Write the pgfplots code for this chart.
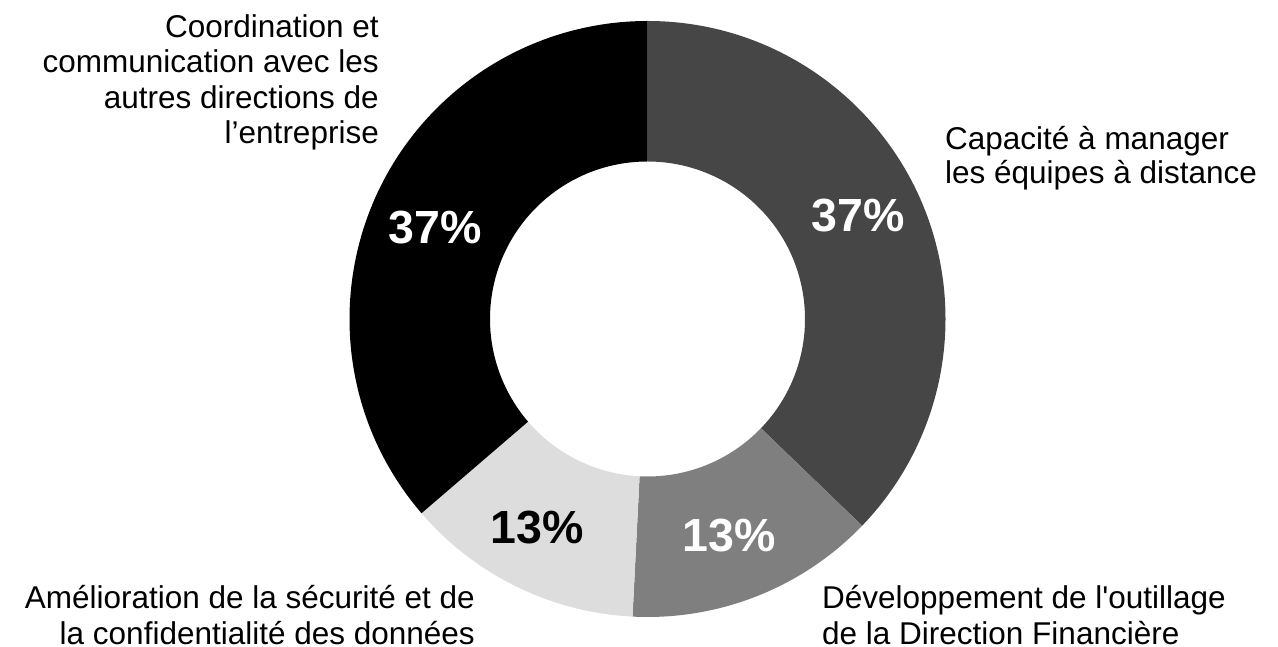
\documentclass[border=0pt]{standalone}
\usepackage{pgfplots}
\pgfplotsset{compat=1.18}
\usepackage{pgfplotstable}
\usepackage{fontspec}
\setmainfont{Liberation Sans}
\definecolor{sA}{HTML}{464646}
\definecolor{sB}{HTML}{7F7F7F}
\definecolor{sC}{HTML}{DDDDDD}
\definecolor{sD}{HTML}{000000}
% slice shares (percent, clockwise from 12 o'clock) and their label positions
\pgfplotstableread{
value lx ly
37.2 858 431.5
13.6 729 111
12.9 537.5 119
36.3 435 419
}\slices
\begin{document}
\begin{tikzpicture}
\pgfplotstablegetelem{0}{value}\of\slices \let\vA\pgfplotsretval
\pgfplotstablegetelem{1}{value}\of\slices \let\vB\pgfplotsretval
\pgfplotstablegetelem{2}{value}\of\slices \let\vC\pgfplotsretval
\pgfplotstablegetelem{3}{value}\of\slices \let\vD\pgfplotsretval
\pgfplotstablegetelem{0}{lx}\of\slices \let\xA\pgfplotsretval
\pgfplotstablegetelem{1}{lx}\of\slices \let\xB\pgfplotsretval
\pgfplotstablegetelem{2}{lx}\of\slices \let\xC\pgfplotsretval
\pgfplotstablegetelem{3}{lx}\of\slices \let\xD\pgfplotsretval
\pgfplotstablegetelem{0}{ly}\of\slices \let\yA\pgfplotsretval
\pgfplotstablegetelem{1}{ly}\of\slices \let\yB\pgfplotsretval
\pgfplotstablegetelem{2}{ly}\of\slices \let\yC\pgfplotsretval
\pgfplotstablegetelem{3}{ly}\of\slices \let\yD\pgfplotsretval
\pgfmathsetmacro\aA{90}
\pgfmathsetmacro\aB{\aA-3.6*\vA}
\pgfmathsetmacro\aC{\aB-3.6*\vB}
\pgfmathsetmacro\aD{\aC-3.6*\vC}
\pgfmathsetmacro\aE{\aD-3.6*\vD}
\def\R{298pt}
\def\r{157.5pt}
\begin{axis}[
  x=1pt, y=1pt,
  xmin=0, xmax=1278, ymin=0, ymax=647,
  hide axis, clip=false,
]
\fill[sA, shift={(axis cs:647.5,328)}] (\aA:\R) arc[start angle=\aA, end angle=\aB, radius=\R] -- (\aB:\r) arc[start angle=\aB, end angle=\aA, radius=\r] -- cycle;
\fill[sB, shift={(axis cs:647.5,328)}] (\aB:\R) arc[start angle=\aB, end angle=\aC, radius=\R] -- (\aC:\r) arc[start angle=\aC, end angle=\aB, radius=\r] -- cycle;
\fill[sC, shift={(axis cs:647.5,328)}] (\aC:\R) arc[start angle=\aC, end angle=\aD, radius=\R] -- (\aD:\r) arc[start angle=\aD, end angle=\aC, radius=\r] -- cycle;
\fill[sD, shift={(axis cs:647.5,328)}] (\aD:\R) arc[start angle=\aD, end angle=\aE, radius=\R] -- (\aE:\r) arc[start angle=\aE, end angle=\aD, radius=\r] -- cycle;
% percentage labels
\begin{scope}[every node/.style={inner sep=0pt, font=\fontsize{46.5}{50}\selectfont\bfseries}]
\node[white] at (axis cs:\xA,\yA) {37\%};
\node[white] at (axis cs:\xB,\yB) {13\%};
\node[black] at (axis cs:\xC,\yC) {13\%};
\node[white] at (axis cs:\xD,\yD) {37\%};
\end{scope}
% category labels
\begin{scope}[every node/.style={inner sep=0pt, font=\fontsize{31.5}{35}\selectfont}]
\node[anchor=base east] at (axis cs:379,609.5) {Coordination et};
\node[anchor=base east] at (axis cs:379,574.2) {communication avec les};
\node[anchor=base east] at (axis cs:379,538.9) {autres directions de};
\node[anchor=base east] at (axis cs:379,503.6) {l’entreprise};
\node[anchor=base west] at (axis cs:945,497.7) {Capacité à manager};
\node[anchor=base west] at (axis cs:945,463) {les équipes à distance};
\node[anchor=base east] at (axis cs:475,38) {Amélioration de la sécurité et de};
\node[anchor=base east] at (axis cs:475,2.5) {la confidentialité des données};
\node[anchor=base west] at (axis cs:822,38) {Développement de l\textquotesingle outillage};
\node[anchor=base west] at (axis cs:822,2.5) {de la Direction Financière};
\end{scope}
\end{axis}
\pgfresetboundingbox
\path[use as bounding box] (0,0) rectangle (1278pt,647pt);
\end{tikzpicture}
\end{document}
